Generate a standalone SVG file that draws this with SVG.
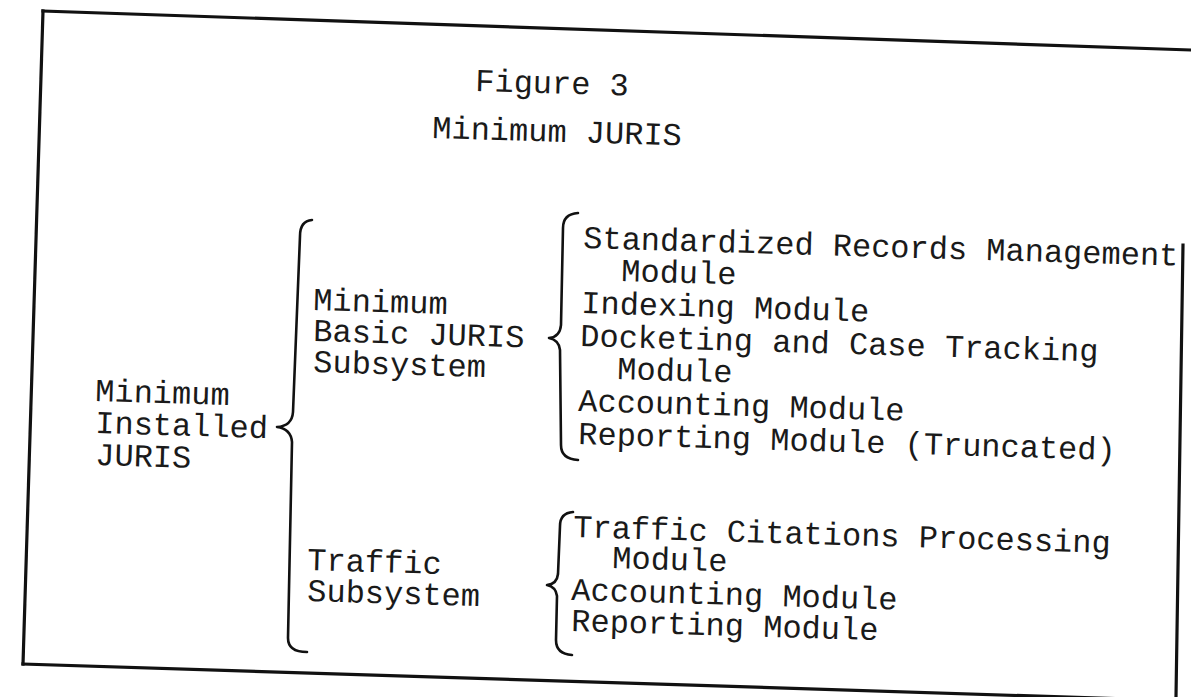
<svg xmlns="http://www.w3.org/2000/svg" width="1191" height="697" viewBox="0 0 1191 697">
<style>
.t{font-family:"Liberation Mono","DejaVu Sans Mono",monospace;font-size:32px;fill:#1a1a1a}
.f{stroke:#111;stroke-width:3.2;fill:none;stroke-linecap:square}
.b{stroke:#111;stroke-width:2.6;fill:none;stroke-linecap:round;stroke-linejoin:round}
</style>
<rect width="1191" height="697" fill="#ffffff"/>
<g id="frame">
<line class="f" x1="43" y1="11" x2="1191" y2="50"/>
<line class="f" x1="43" y1="11" x2="23" y2="664"/>
<line class="f" x1="23" y1="664" x2="1191" y2="701"/>
<line class="f" x1="1183" y1="245" x2="1176" y2="697"/>
</g>
<g id="title">
<text class="t" x="475" y="91" transform="rotate(1.7 475 91)">Figure 3</text>
<text class="t" x="432" y="138" transform="rotate(1.7 432 138)">Minimum JURIS</text>
</g>
<g id="node-installed">
<text class="t" x="95" y="401" transform="rotate(1.7 95 401)">Minimum</text>
<text class="t" x="95" y="433" transform="rotate(1.7 95 433)">Installed</text>
<text class="t" x="95" y="465" transform="rotate(1.7 95 465)">JURIS</text>
</g>
<g id="node-basic">
<text class="t" x="313" y="310" transform="rotate(1.7 313 310)">Minimum</text>
<text class="t" x="313" y="341" transform="rotate(1.7 313 341)">Basic JURIS</text>
<text class="t" x="313" y="372" transform="rotate(1.7 313 372)">Subsystem</text>
</g>
<g id="node-traffic">
<text class="t" x="307" y="570" transform="rotate(1.7 307 570)">Traffic</text>
<text class="t" x="307" y="601" transform="rotate(1.7 307 601)">Subsystem</text>
</g>
<g id="node-basic-modules">
<text class="t" x="583" y="248" transform="rotate(1.7 583 248)">Standardized Records Management</text>
<text class="t" x="621" y="281" transform="rotate(1.7 621 281)">Module</text>
<text class="t" x="581" y="313" transform="rotate(1.7 581 313)">Indexing Module</text>
<text class="t" x="580" y="346" transform="rotate(1.7 580 346)">Docketing and Case Tracking</text>
<text class="t" x="617" y="379" transform="rotate(1.7 617 379)">Module</text>
<text class="t" x="578" y="411" transform="rotate(1.7 578 411)">Accounting Module</text>
<text class="t" x="578" y="444" transform="rotate(1.7 578 444)">Reporting Module (Truncated)</text>
</g>
<g id="node-traffic-modules">
<text class="t" x="573" y="537" transform="rotate(1.7 573 537)">Traffic Citations Processing</text>
<text class="t" x="612" y="568" transform="rotate(1.7 612 568)">Module</text>
<text class="t" x="571" y="600" transform="rotate(1.7 571 600)">Accounting Module</text>
<text class="t" x="571" y="631" transform="rotate(1.7 571 631)">Reporting Module</text>
</g>
<g id="connectors">
<path class="b" d="M312,220 Q300,221 300,236 L293,412 Q292,426 277,427 Q291,429 292,442 L288,638 Q288,652 307,652"/>
<path class="b" d="M578,213 Q563,214 563,228 L561,325 Q560,337 549,338 Q559,340 560,350 L561,445 Q561,459 578,460"/>
<path class="b" d="M573,512 Q560,513 560,526 L558,574 Q557,584 547,585 Q556,587 557,596 L556,640 Q556,654 572,655"/>
</g>
</svg>
